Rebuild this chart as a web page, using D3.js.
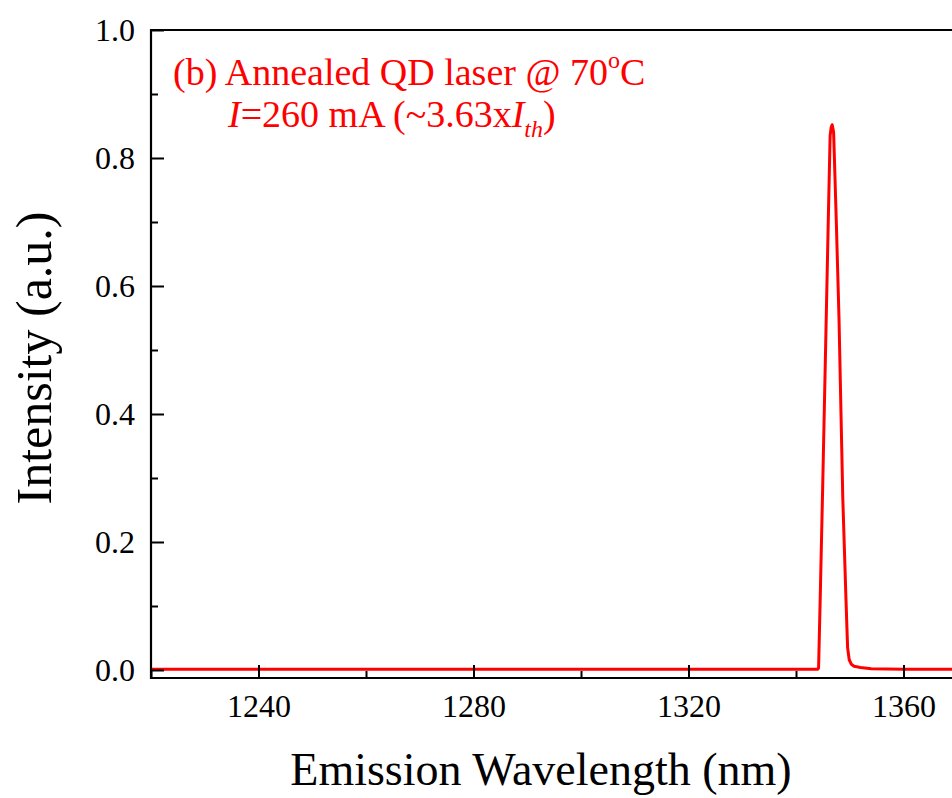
<!DOCTYPE html>
<html>
<head>
<meta charset="utf-8">
<script src="https://cdn.jsdelivr.net/npm/d3@7"></script>
<style>
  html, body { margin: 0; padding: 0; background: #fff; }
  svg { display: block; }
  svg text { font-family: "Liberation Serif", "Times New Roman", serif !important; }
</style>
</head>
<body>
<svg id="chart" width="952" height="798"></svg>
<script>
// Lasing spectrum of the annealed QD laser at 70 °C
const wavelength = [1220, 1260, 1300, 1340, 1344.0, 1344.2, 1344.5, 1345.0, 1345.5, 1346.0,
  1346.35, 1346.55, 1346.73, 1346.9, 1347.0, 1347.5, 1348.0, 1348.4, 1348.7, 1349.0,
  1349.3, 1349.6, 1349.9, 1350.3, 1350.8, 1352.0, 1354.0, 1360, 1370, 1380];
const intensity = [0.001, 0.001, 0.001, 0.001, 0.001, 0.003, 0.11, 0.30, 0.50, 0.70,
  0.835, 0.848, 0.852, 0.845, 0.84, 0.70, 0.55, 0.39, 0.27, 0.19,
  0.11, 0.035, 0.016, 0.009, 0.006, 0.004, 0.002, 0.001, 0.001, 0.001];

const xMajorTicks = [1240, 1280, 1320, 1360];
const xMinorTicks = [1220, 1260, 1300, 1340, 1380];
const yMajorTicks = [0.0, 0.2, 0.4, 0.6, 0.8, 1.0];
const yMinorTicks = [0.1, 0.3, 0.5, 0.7, 0.9];

const serif = "'Liberation Serif', 'Times New Roman', serif";
const svg = d3.select("#chart").attr("font-family", serif);
const plotLeft = 151, plotTop = 30, plotBottom = 678, zeroY = 670;

const x = d3.scaleLinear().domain([1220, 1380]).range([plotLeft, plotLeft + 160 * 5.375]);
const y = d3.scaleLinear().domain([0, 1]).range([zeroY, plotTop]);

// spectrum
const line = d3.line().x((d, i) => x(wavelength[i])).y(d => y(d));
svg.append("path")
  .datum(intensity)
  .attr("d", line)
  .attr("fill", "none")
  .attr("stroke", "#ff0000")
  .attr("stroke-width", 3)
  .attr("stroke-linejoin", "round");

// x axis (ticks pointing inward)
const gx = svg.append("g").attr("transform", `translate(0,${plotBottom})`);
gx.call(d3.axisBottom(x).tickValues(xMajorTicks).tickSize(-13).tickPadding(16).tickFormat(d3.format("d")));
gx.append("g").call(d3.axisBottom(x).tickValues(xMinorTicks).tickSize(-7).tickFormat(""));

// y axis
const gy = svg.append("g").attr("transform", `translate(${plotLeft},0)`);
gy.call(d3.axisLeft(y).tickValues(yMajorTicks).tickSize(-13).tickPadding(16).tickFormat(d3.format(".1f")));
gy.append("g").call(d3.axisLeft(y).tickValues(yMinorTicks).tickSize(-7).tickFormat(""));

svg.selectAll("g").attr("font-family", serif);
svg.selectAll(".domain").remove();
svg.selectAll(".tick line").attr("stroke", "#000").attr("stroke-width", 2);
svg.selectAll(".tick text").attr("font-size", 32).attr("fill", "#000");

// frame
const frame = svg.append("g").attr("stroke", "#000").attr("stroke-width", 2.2).attr("fill", "none");
frame.append("line").attr("x1", plotLeft).attr("x2", plotLeft).attr("y1", plotTop - 1).attr("y2", plotBottom + 1);
frame.append("line").attr("x1", plotLeft).attr("x2", 960).attr("y1", plotBottom).attr("y2", plotBottom);
frame.append("line").attr("x1", plotLeft).attr("x2", 960).attr("y1", plotTop).attr("y2", plotTop);

// axis titles
svg.append("text")
  .attr("x", 541).attr("y", 785)
  .attr("text-anchor", "middle")
  .attr("font-size", 46)
  .text("Emission Wavelength (nm)");

svg.append("text")
  .attr("transform", "translate(51,358) rotate(-90)")
  .attr("text-anchor", "middle")
  .attr("font-size", 50)
  .text("Intensity (a.u.)");

// annotation
const note = svg.append("g").attr("fill", "#ff0000").attr("font-size", 38);
const l1 = note.append("text").attr("x", 173).attr("y", 85);
l1.append("tspan").text("(b) Annealed QD laser @ 70");
l1.append("tspan").attr("font-size", 24).attr("dy", -17).text("o");
l1.append("tspan").attr("dy", 17).text("C");

const l2 = note.append("text").attr("x", 228).attr("y", 127);
l2.append("tspan").attr("font-style", "italic").text("I");
l2.append("tspan").text("=260 mA (~3.63x");
l2.append("tspan").attr("font-style", "italic").text("I");
l2.append("tspan").attr("font-style", "italic").attr("font-size", 24).attr("dy", 10).text("th");
l2.append("tspan").attr("dy", -10).text(")");
</script>
</body>
</html>
